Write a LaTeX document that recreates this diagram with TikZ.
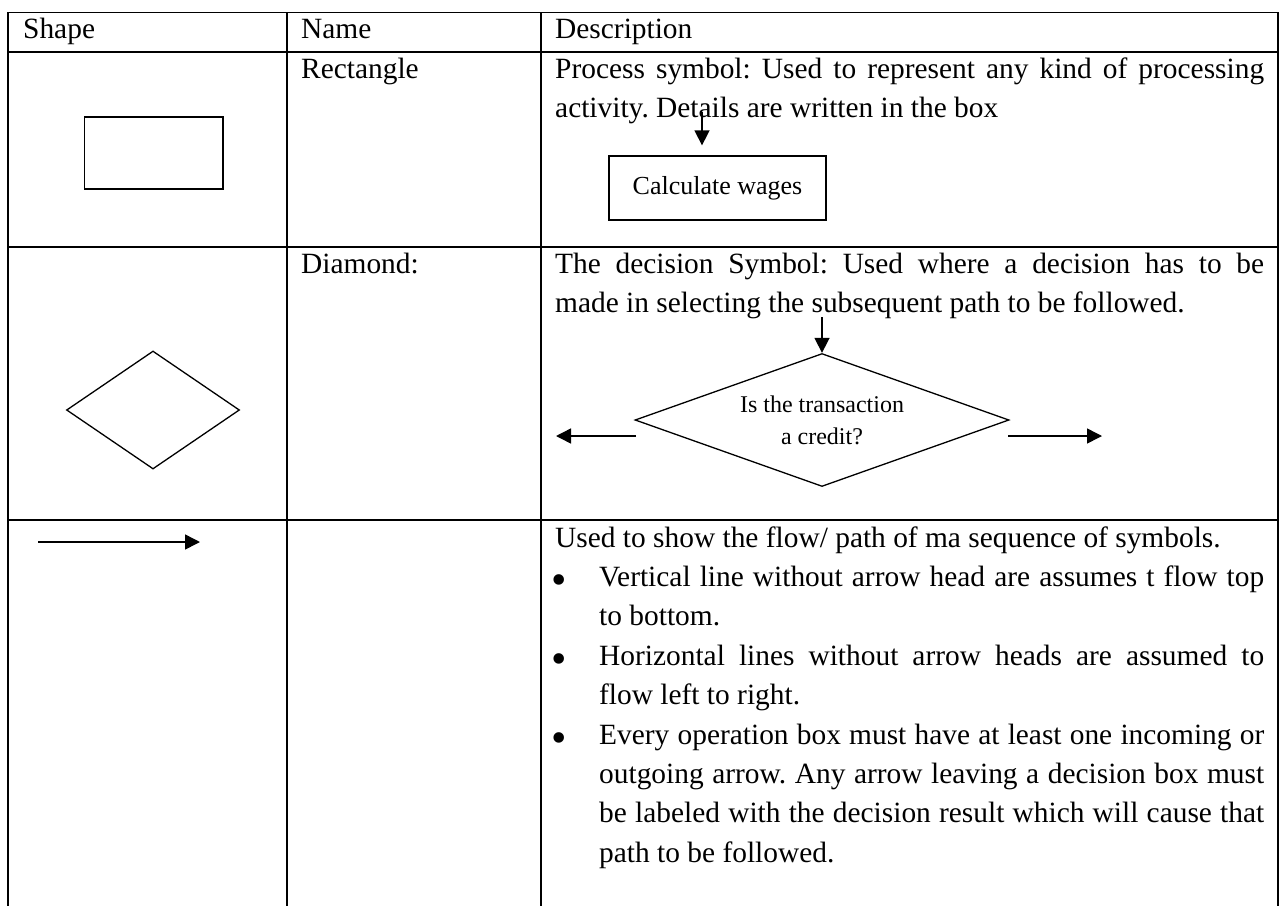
\documentclass[tikz,border=0pt]{standalone}
\usepackage{fontspec}
\setmainfont{Liberation Serif}
\usetikzlibrary{arrows.meta,shapes.geometric}
\frenchspacing
\begin{document}
\begin{tikzpicture}[x=1pt,y=-1pt,
  grid/.style={line width=1.6pt,line cap=rect},
  outline/.style={draw,line width=1.3pt,inner sep=0pt},
  arr/.style={line width=1.5pt,-{Triangle[length=15pt,width=15pt]}},
  txt/.style={anchor=base west,inner sep=0pt,font=\fontsize{29.4pt}{39.4pt}\selectfont},
  dot/.style={anchor=center,inner sep=0pt,font=\fontsize{44pt}{44pt}\selectfont},
]
\useasboundingbox (0,0) rectangle (1281,905);

% table rules
\draw[grid] (8,12.5) -- (1278,12.5);
\draw[grid] (8,52) -- (1278,52);
\draw[grid] (8,247) -- (1278,247);
\draw[grid] (8,520) -- (1278,520);
\foreach \x in {8,287,541,1278} \draw[grid] (\x,12.5) -- (\x,906);

% header row
\node[txt] (hshape) at (23,38) {Shape};
\node[txt] (hname) at (301,38) {Name};
\node[txt] (hdesc) at (555,38) {Description};

% process symbol row
\node[txt] (name1) at (301,78) {Rectangle};
\node[txt] (desc1a) at (555,78) {\makebox[709pt][s]{Process symbol: Used to represent any kind of processing}};
\node[txt] (desc1b) at (555,117) {activity. Details are written in the box};
\node[outline,minimum width=138.5pt,minimum height=72pt] (rect) at (153.75,153) {};
\node[outline,minimum width=217pt,minimum height=64pt,font=\fontsize{26pt}{30pt}\selectfont] (calc) at (717.5,188) {Calculate wages};
\coordinate (calcin) at (702,112);
\draw[arr,shorten >=10pt] (calcin) -- (calcin |- calc.north);

% decision symbol row
\node[txt] (name2) at (301,273) {Diamond:};
\node[txt] (desc2a) at (555,273) {\makebox[709pt][s]{The decision Symbol: Used where a decision has to be}};
\node[txt] (desc2b) at (555,312) {made in selecting the subsequent path to be followed.};
\node[outline,diamond,minimum width=173pt,minimum height=118pt] (dia) at (153,410) {};
\node[outline,diamond,aspect=2.81,minimum width=374pt,minimum height=133pt,align=center,
      font=\fontsize{24pt}{32pt}\selectfont] (dec) at (822,420) {Is the transaction\\a credit?};
\coordinate (decin) at (822,317);
\draw[arr] (decin) -- (dec.north);
\coordinate (noout) at (636,436);
\coordinate (noend) at (556,436);
\draw[arr] (noout) -- (noend);
\coordinate (yesout) at (1008,436);
\coordinate (yesend) at (1102,436);
\draw[arr] (yesout) -- (yesend);

% flow line row
\coordinate (flowstart) at (38,542);
\coordinate (flowend) at (200,542);
\draw[arr] (flowstart) -- (flowend);
\node[txt] (desc3) at (555,547) {Used to show the flow/ path of ma sequence of symbols.};

\node[dot] (b1) at (559.5,585) {•};
\node[txt] (b1a) at (599,586.4) {\makebox[665pt][s]{Vertical line without arrow head are assumes t flow top}};
\node[txt] (b1b) at (599,625.8) {to bottom.};

\node[dot] (b2) at (559.5,664) {•};
\node[txt] (b2a) at (599,665.2) {\makebox[665pt][s]{Horizontal lines without arrow heads are assumed to}};
\node[txt] (b2b) at (599,704.6) {flow left to right.};

\node[dot] (b3) at (559.5,743) {•};
\node[txt] (b3a) at (599,744) {\makebox[665pt][s]{Every operation box must have at least one incoming or}};
\node[txt] (b3b) at (599,783.4) {\makebox[665pt][s]{outgoing arrow. Any arrow leaving a decision box must}};
\node[txt] (b3c) at (599,822.8) {\makebox[665pt][s]{be labeled with the decision result which will cause that}};
\node[txt] (b3d) at (599,862.2) {path to be followed.};
\end{tikzpicture}
\end{document}
